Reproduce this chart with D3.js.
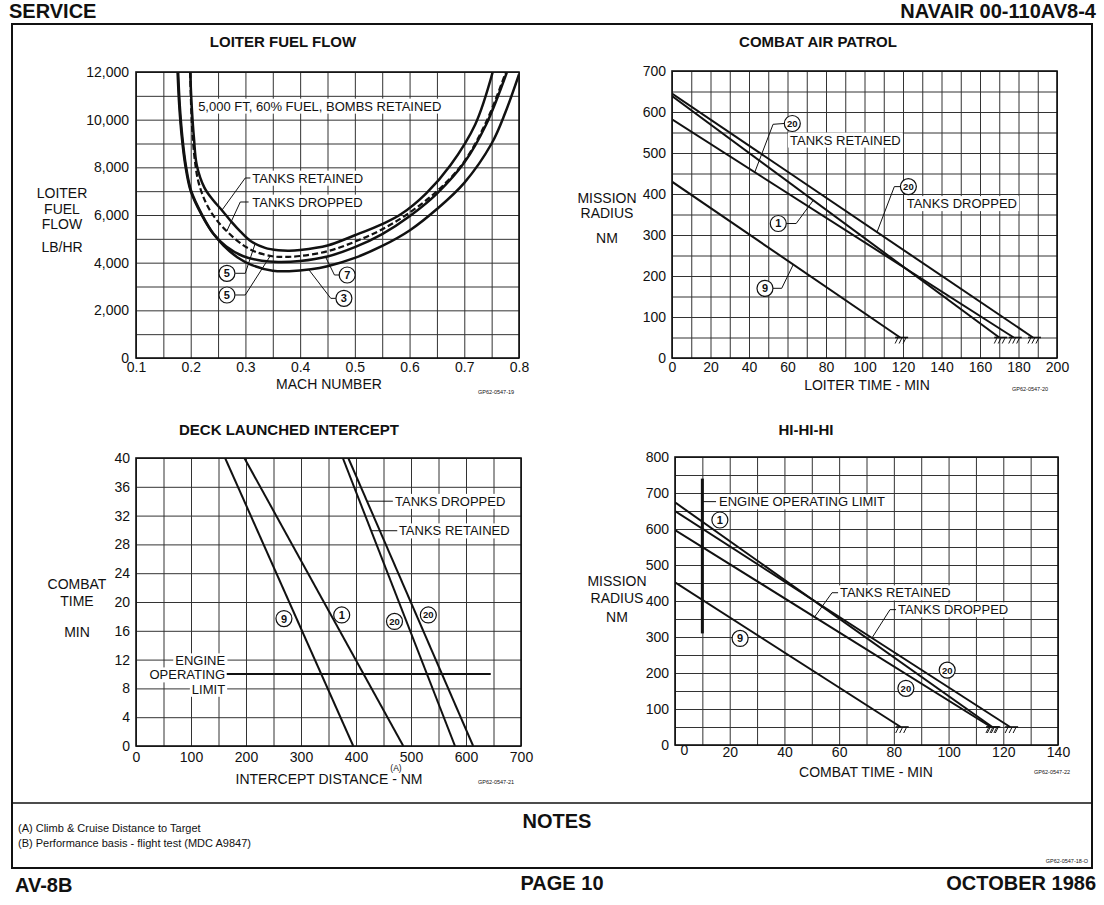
<!DOCTYPE html>
<html>
<head>
<meta charset="utf-8">
<script src="https://cdn.jsdelivr.net/npm/d3@7"></script>
<style>
body { margin: 0; background: #fff; }
svg text { font-family: "Liberation Sans", Arial, Helvetica, sans-serif; fill: #111; }
</style>
</head>
<body>
<svg id="page" width="1104" height="905"></svg>
<script>
// ---- LOITER FUEL FLOW : [mach, lb/hr] ----
var loiterRetained5 = [[0.199,12000],[0.202,10500],[0.206,9200],[0.211,8100],[0.225,7150],[0.240,6650],
    [0.257,6200],[0.275,5700],[0.291,5300],[0.310,4900],[0.336,4620],[0.360,4520],[0.380,4500],[0.400,4530],
    [0.450,4720],[0.500,5150],[0.550,5620],[0.584,6030],[0.630,6900],[0.675,8100],[0.720,9800],[0.752,12000]];
var loiterDropped5 = [[0.199,12000],[0.201,10400],[0.203,9500],[0.207,8400],[0.214,7400],[0.228,6500],[0.245,5860],
    [0.269,5250],[0.295,4750],[0.318,4460],[0.349,4270],[0.370,4240],[0.400,4280],[0.450,4480],[0.500,4880],
    [0.550,5400],[0.600,6100],[0.650,7000],[0.697,8150],[0.740,9900],[0.776,12000]];
var loiterStores7 = [[0.177,12000],[0.180,10600],[0.185,9200],[0.191,8100],[0.201,7000],[0.221,6000],[0.242,5200],
    [0.265,4680],[0.295,4280],[0.330,4080],[0.360,4030],[0.400,4070],[0.450,4260],[0.500,4650],[0.550,5200],
    [0.600,5950],[0.650,6900],[0.700,8200],[0.740,9800],[0.778,12000]];
var loiterStores3 = [[0.176,12000],[0.179,10600],[0.184,9200],[0.190,8100],[0.200,7000],[0.220,6000],[0.240,5250],
    [0.260,4720],[0.285,4230],[0.312,3900],[0.350,3660],[0.380,3640],[0.420,3720],[0.450,3850],[0.500,4200],
    [0.550,4700],[0.600,5350],[0.650,6250],[0.700,7350],[0.750,9000],[0.775,10300],[0.800,11900]];
var loiterXTicks = [0.1,0.2,0.3,0.4,0.5,0.6,0.7,0.8];
var loiterYTicks = [0,2000,4000,6000,8000,10000,12000];

// ---- COMBAT AIR PATROL : [loiter min, radius nm] ----
var capDropped20 = [[0,645],[187.5,50]];
var capStores1 = [[0,639],[170,50]];
var capRetained20 = [[0,582],[177.5,50]];
var capStores9 = [[0,430],[118.5,50]];
var capXTicks = [0,20,40,60,80,100,120,140,160,180,200];
var capYTicks = [0,100,200,300,400,500,600,700];

// ---- DECK LAUNCHED INTERCEPT : [distance nm, combat time min] ----
var dliStores9 = [[162,40],[395,0]];
var dliStores1 = [[197,40],[486,0]];
var dliRetained20 = [[376,40],[580,0]];
var dliDropped20 = [[386,40],[613,0]];
var dliEngineLimit = [[165,10],[645,10]];
var dliXTicks = [0,100,200,300,400,500,600,700];
var dliYTicks = [0,4,8,12,16,20,24,28,32,36,40];

// ---- HI-HI-HI : [combat time min, radius nm] ----
var hiStores1 = [[0,674],[116,50]];
var hiDropped20 = [[0,650],[122.5,50]];
var hiRetained20 = [[0,597],[115.5,50]];
var hiStores9 = [[0,452],[82.5,50]];
var hiEngineLimit = [[10,310],[10,740]];
var hiXTicks = [0,20,40,60,80,100,120,140];
var hiYTicks = [0,100,200,300,400,500,600,700,800];

var svg = d3.select('#page');
var INK = '#111';

function range(a, b, s) { return d3.range(a, b + s / 2, s); }

function at(series, t) {
    for (var i = 1; i < series.length; i++) {
        var a = series[i - 1], b = series[i];
        if ((t - a[0]) * (t - b[0]) <= 0) return a[1] + (b[1] - a[1]) * (t - a[0]) / (b[0] - a[0]);
    }
    return series[series.length - 1][1];
}

function panel(o) {
    var g = svg.append('g');
    var x = d3.scaleLinear().domain(o.xDomain).range([o.left, o.right]);
    var y = d3.scaleLinear().domain(o.yDomain).range([o.bottom, o.top]);
    var w = o.right - o.left, h = o.bottom - o.top;

    var gx = g.append('g').attr('transform', 'translate(0,' + o.bottom + ')')
        .call(d3.axisBottom(x).tickValues(o.xGrid).tickSize(-h).tickFormat(''));
    var gy = g.append('g').attr('transform', 'translate(' + o.left + ',0)')
        .call(d3.axisLeft(y).tickValues(o.yGrid).tickSize(-w).tickFormat(''));
    [gx, gy].forEach(function(s) {
        s.select('.domain').remove();
        s.selectAll('line').attr('stroke', '#333').attr('stroke-width', 1);
    });

    g.append('rect').attr('x', o.left).attr('y', o.top).attr('width', w).attr('height', h)
        .attr('fill', 'none').attr('stroke', INK).attr('stroke-width', 1.6);

    var ax = g.append('g').attr('transform', 'translate(0,' + o.bottom + ')')
        .call(d3.axisBottom(x).tickValues(o.xTicks).tickSize(0).tickPadding(o.xPad).tickFormat(o.xFmt));
    var ay = g.append('g').attr('transform', 'translate(' + o.left + ',0)')
        .call(d3.axisLeft(y).tickValues(o.yTicks).tickSize(0).tickPadding(o.yPad).tickFormat(o.yFmt));
    [ax, ay].forEach(function(s) {
        s.attr('font-family', null).attr('font-size', 14);
        s.select('.domain').remove();
        s.selectAll('text').attr('fill', INK);
    });

    var clipId = 'clip' + Math.round(o.left) + Math.round(o.top);
    g.append('clipPath').attr('id', clipId).append('rect')
        .attr('x', o.left).attr('y', o.top).attr('width', w).attr('height', h);

    return {g: g, x: x, y: y, ax: ax, ay: ay, clip: 'url(#' + clipId + ')'};
}

function label(g, px, py, str, o) {
    o = o || {};
    var t = g.append('text').attr('x', px).attr('y', py).attr('dy', '0.36em')
        .attr('font-size', o.size || 13).attr('text-anchor', o.anchor || 'start')
        .attr('font-weight', o.bold ? 'bold' : null).text(str);
    if (o.bg) {
        var b = t.node().getBBox();
        g.insert('rect', function() { return t.node(); })
            .attr('x', b.x - 2).attr('y', b.y).attr('width', b.width + 4).attr('height', b.height)
            .attr('fill', '#fff');
    }
    return t;
}

function tag(g, px, py, str) {
    g.append('circle').attr('cx', px).attr('cy', py).attr('r', 8)
        .attr('fill', '#fff').attr('stroke', INK).attr('stroke-width', 1.2);
    g.append('text').attr('x', px).attr('y', py).attr('dy', '0.36em').attr('text-anchor', 'middle')
        .attr('font-family', '"Liberation Sans Narrow", "Liberation Sans", Arial')
        .attr('font-weight', 'bold').attr('font-size', str.length > 1 ? 9.5 : 11).text(str);
}

function lead(g, p, pts) {
    g.append('path').attr('d', d3.line().x(function(d) { return p.x(d[0]); }).y(function(d) { return p.y(d[1]); })(pts))
        .attr('fill', 'none').attr('stroke', INK).attr('stroke-width', 1);
}

function ground(g, px, py) {
    g.append('line').attr('x1', px - 5).attr('x2', px + 8).attr('y1', py).attr('y2', py)
        .attr('stroke', INK).attr('stroke-width', 1.6);
    for (var i = 0; i < 3; i++) {
        g.append('line').attr('x1', px - 2 + 4 * i).attr('y1', py).attr('x2', px - 5 + 4 * i).attr('y2', py + 6)
            .attr('stroke', INK).attr('stroke-width', 1);
    }
}

function drawSeries(p, series, width, curve, dash) {
    var line = d3.line().x(function(d) { return p.x(d[0]); }).y(function(d) { return p.y(d[1]); });
    if (curve) line.curve(curve);
    p.g.append('path').datum(series).attr('d', line).attr('clip-path', p.clip)
        .attr('fill', 'none').attr('stroke', INK).attr('stroke-width', width)
        .attr('stroke-dasharray', dash || null);
}

function multiLabel(g, px, lines) {
    lines.forEach(function(l) { label(g, px, l[1], l[0], {size: 14, anchor: 'middle'}); });
}

// ---------- page frame ----------
svg.append('path').attr('d', 'M12,24H1092V868H12Z').attr('fill', 'none').attr('stroke', INK).attr('stroke-width', 2);
svg.append('line').attr('x1', 12).attr('x2', 1092).attr('y1', 803).attr('y2', 803).attr('stroke', INK).attr('stroke-width', 1.5);
label(svg, 9, 11, 'SERVICE', {size: 20, bold: true});
label(svg, 1096, 11, 'NAVAIR 00-110AV8-4', {size: 20, bold: true, anchor: 'end'});
label(svg, 15, 885, 'AV-8B', {size: 20, bold: true});
label(svg, 562, 883, 'PAGE 10', {size: 20, bold: true, anchor: 'middle'});
label(svg, 1096, 883, 'OCTOBER 1986', {size: 20, bold: true, anchor: 'end'});
label(svg, 557, 821, 'NOTES', {size: 20, bold: true, anchor: 'middle'});
label(svg, 18, 828, '(A) Climb & Cruise Distance to Target', {size: 11});
label(svg, 18, 843, '(B) Performance basis - flight test (MDC A9847)', {size: 11});
label(svg, 1088, 861, 'GP62-0547-18-O', {size: 5.5, anchor: 'end'});

// ---------- LOITER FUEL FLOW ----------
var p1 = panel({left: 136, right: 519, top: 72, bottom: 358,
    xDomain: [0.1, 0.8], yDomain: [0, 12000],
    xGrid: range(0.1, 0.8, 0.05), yGrid: range(0, 12000, 1000),
    xTicks: loiterXTicks, yTicks: loiterYTicks, xPad: 4, yPad: 7,
    xFmt: d3.format('.1f'), yFmt: d3.format(',')});
label(svg, 283, 42, 'LOITER FUEL FLOW', {size: 15, bold: true, anchor: 'middle'});
multiLabel(svg, 62, [['LOITER', 193], ['FUEL', 209], ['FLOW', 224], ['LB/HR', 247]]);
label(svg, 329, 384, 'MACH NUMBER', {size: 14, anchor: 'middle'});
label(svg, 478, 392, 'GP62-0547-19', {size: 5.5});

var smooth = d3.curveCatmullRom.alpha(0.5);
drawSeries(p1, loiterStores3, 2.5, smooth);
drawSeries(p1, loiterStores7, 2.5, smooth);
drawSeries(p1, loiterDropped5, 2.2, smooth, '6,3');
drawSeries(p1, loiterRetained5, 2.5, smooth);

label(p1.g, p1.x(0.2136), p1.y(10575), '5,000 FT, 60% FUEL, BOMBS RETAINED', {size: 13, bg: true});
label(p1.g, p1.x(0.3126), p1.y(7553), 'TANKS RETAINED', {size: 13, bg: true});
label(p1.g, p1.x(0.3126), p1.y(6546), 'TANKS DROPPED', {size: 13, bg: true});
lead(p1.g, p1, [[0.257, at(loiterRetained5, 0.257)], [0.2997, 7553], [0.309, 7553]]);
lead(p1.g, p1, [[0.266, at(loiterDropped5, 0.266)], [0.2906, 6546], [0.3058, 6546]]);
lead(p1.g, p1, [[0.2814, 3554], [0.2997, 3554], [0.318, at(loiterRetained5, 0.318)]]);
lead(p1.g, p1, [[0.2814, 2644], [0.2997, 2644], [0.3456, at(loiterDropped5, 0.3456)]]);
lead(p1.g, p1, [[0.4718, 3483], [0.4627, 3483], [0.4463, at(loiterStores7, 0.4463)]]);
lead(p1.g, p1, [[0.4660, 2503], [0.4560, 2503], [0.4157, at(loiterStores3, 0.4157)]]);
tag(p1.g, p1.x(0.2662), p1.y(3554), '5');
tag(p1.g, p1.x(0.2662), p1.y(2644), '5');
tag(p1.g, p1.x(0.486), p1.y(3483), '7');
tag(p1.g, p1.x(0.480), p1.y(2503), '3');

// ---------- COMBAT AIR PATROL ----------
var p2 = panel({left: 672, right: 1057, top: 71, bottom: 358,
    xDomain: [0, 200], yDomain: [0, 700],
    xGrid: range(0, 200, 10), yGrid: range(0, 700, 50),
    xTicks: capXTicks, yTicks: capYTicks, xPad: 4, yPad: 6,
    xFmt: d3.format('d'), yFmt: d3.format('d')});
label(svg, 818, 42, 'COMBAT AIR PATROL', {size: 15, bold: true, anchor: 'middle'});
multiLabel(svg, 607, [['MISSION', 198], ['RADIUS', 213], ['NM', 238]]);
label(svg, 867, 385, 'LOITER TIME - MIN', {size: 14, anchor: 'middle'});
label(svg, 1012, 389, 'GP62-0547-20', {size: 5.5});

[capDropped20, capStores1, capRetained20, capStores9].forEach(function(s) {
    drawSeries(p2, s, 2);
    var e = s[s.length - 1];
    ground(p2.g, p2.x(e[0]), p2.y(e[1]));
});
label(p2.g, p2.x(61.3), p2.y(532), 'TANKS RETAINED', {size: 13, bg: true});
label(p2.g, p2.x(121.9), p2.y(377), 'TANKS DROPPED', {size: 13, bg: true});
lead(p2.g, p2, [[43, at(capRetained20, 43)], [52.5, 570], [58.3, 572]]);
lead(p2.g, p2, [[59.3, 328], [64.5, 328], [73.4, at(capStores1, 73.4)]]);
lead(p2.g, p2, [[118.8, 418], [115.5, 418], [106.5, at(capDropped20, 106.5)]]);
lead(p2.g, p2, [[52.2, 170], [57, 170], [63, at(capStores9, 63)]]);
tag(p2.g, p2.x(62.5), p2.y(572), '20');
tag(p2.g, p2.x(55.2), p2.y(328), '1');
tag(p2.g, p2.x(122.8), p2.y(418), '20');
tag(p2.g, p2.x(48.3), p2.y(170), '9');

// ---------- DECK LAUNCHED INTERCEPT ----------
var p3 = panel({left: 136, right: 521, top: 458, bottom: 746,
    xDomain: [0, 700], yDomain: [0, 40],
    xGrid: range(0, 700, 50), yGrid: range(0, 40, 4),
    xTicks: dliXTicks, yTicks: dliYTicks, xPad: 6, yPad: 6,
    xFmt: d3.format('d'), yFmt: d3.format('d')});
label(svg, 289, 430, 'DECK LAUNCHED INTERCEPT', {size: 15, bold: true, anchor: 'middle'});
multiLabel(svg, 77, [['COMBAT', 584], ['TIME', 601], ['MIN', 632]]);
label(svg, 329, 779, 'INTERCEPT DISTANCE - NM', {size: 14, anchor: 'middle'});
label(svg, 396, 768, '(A)', {size: 8.5, anchor: 'middle'});
label(svg, 478, 782, 'GP62-0547-21', {size: 5.5});

[dliStores9, dliStores1, dliRetained20, dliDropped20].forEach(function(s) { drawSeries(p3, s, 2); });
label(p3.g, p3.x(162), p3.y(11.85), 'ENGINE', {size: 13, anchor: 'end', bg: true});
label(p3.g, p3.x(162), p3.y(9.9), 'OPERATING', {size: 13, anchor: 'end', bg: true});
label(p3.g, p3.x(162), p3.y(7.9), 'LIMIT', {size: 13, anchor: 'end', bg: true});
drawSeries(p3, dliEngineLimit, 2);
label(p3.g, p3.x(471), p3.y(34), 'TANKS DROPPED', {size: 13, bg: true});
label(p3.g, p3.x(478), p3.y(29.9), 'TANKS RETAINED', {size: 13, bg: true});
lead(p3.g, p3, [[420, 34], [467, 34]]);
lead(p3.g, p3, [[427.5, 29.9], [475, 29.9]]);
tag(p3.g, p3.x(269), p3.y(17.7), '9');
tag(p3.g, p3.x(374), p3.y(18.2), '1');
tag(p3.g, p3.x(470), p3.y(17.3), '20');
tag(p3.g, p3.x(531.5), p3.y(18.2), '20');

// ---------- HI-HI-HI ----------
var p4 = panel({left: 675, right: 1058, top: 457, bottom: 745,
    xDomain: [0, 140], yDomain: [0, 800],
    xGrid: range(0, 140, 10), yGrid: range(0, 800, 50),
    xTicks: hiXTicks, yTicks: hiYTicks, xPad: 2, yPad: 6,
    xFmt: d3.format('d'), yFmt: d3.format('d')});
p4.ax.selectAll('.tick').filter(function(d) { return d === 0; }).select('text')
    .attr('dx', 9).attr('dy', '0.55em');
label(svg, 806, 430, 'HI-HI-HI', {size: 15, bold: true, anchor: 'middle'});
multiLabel(svg, 617, [['MISSION', 581], ['RADIUS', 598], ['NM', 617]]);
label(svg, 866, 772, 'COMBAT TIME - MIN', {size: 14, anchor: 'middle'});
label(svg, 1034, 772, 'GP62-0547-22', {size: 5.5});

[hiStores1, hiDropped20, hiRetained20, hiStores9].forEach(function(s) {
    drawSeries(p4, s, 2);
    var e = s[s.length - 1];
    ground(p4.g, p4.x(e[0]), p4.y(e[1]));
});
drawSeries(p4, hiEngineLimit, 3);
label(p4.g, p4.x(16.1), p4.y(676), 'ENGINE OPERATING LIMIT', {size: 13, bg: true});
lead(p4.g, p4, [[10, 676], [15, 676]]);
label(p4.g, p4.x(60.3), p4.y(423), 'TANKS RETAINED', {size: 13, bg: true});
label(p4.g, p4.x(81.5), p4.y(376), 'TANKS DROPPED', {size: 13, bg: true});
lead(p4.g, p4, [[51, at(hiRetained20, 51)], [57.4, 423], [59.6, 423]]);
lead(p4.g, p4, [[72, at(hiDropped20, 72)], [78.6, 376], [80.8, 376]]);
tag(p4.g, p4.x(16.4), p4.y(625), '1');
tag(p4.g, p4.x(23.8), p4.y(296), '9');
tag(p4.g, p4.x(99.5), p4.y(208), '20');
tag(p4.g, p4.x(84.4), p4.y(157.5), '20');
</script>
</body>
</html>
